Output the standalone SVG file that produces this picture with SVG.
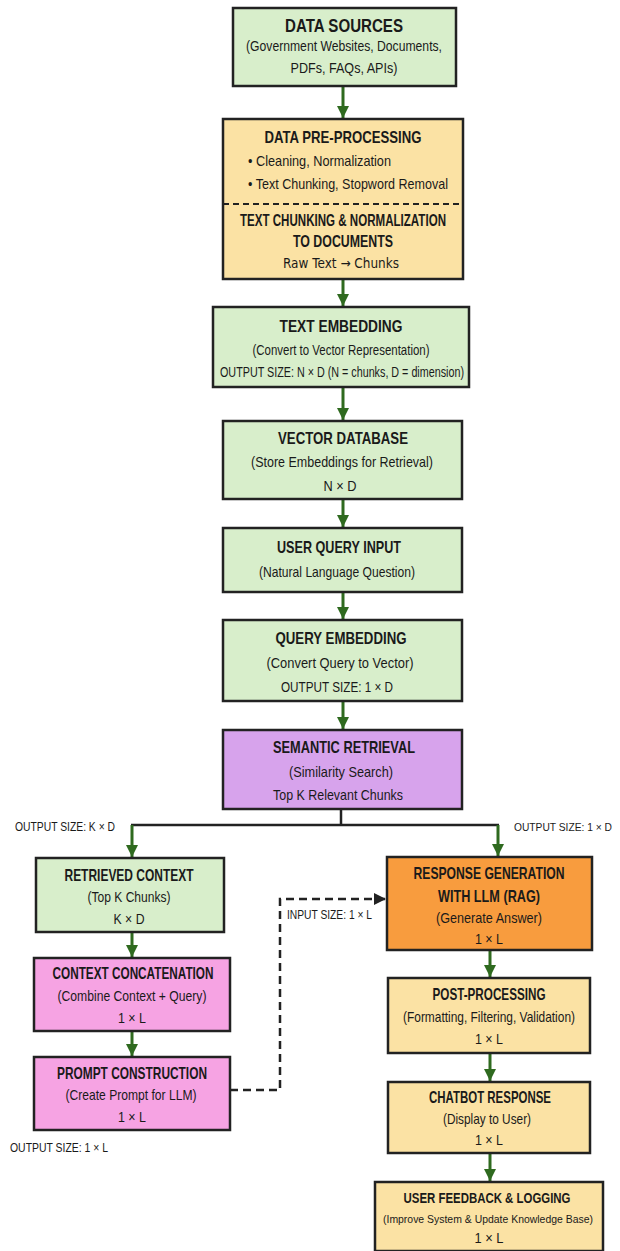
<svg xmlns="http://www.w3.org/2000/svg" width="620" height="1251" viewBox="0 0 620 1251">
<style>
.box{stroke:#222;stroke-width:2.5}
.g{fill:#d8eecb}.y{fill:#fbe2a4}.p{fill:#d7a3ec}.k{fill:#f6a3e3}.o{fill:#f89c3e}
text{font-family:"Liberation Sans",Arial,sans-serif;fill:#1a1a1a;text-anchor:middle}
.t{font-size:17.5px;font-weight:bold}
.t2{font-size:16.5px;font-weight:bold}
.s{font-size:15px}
.sm{font-size:14px}
.lbl{font-size:13px;text-anchor:start}
.ar{stroke:#2f6a1f;stroke-width:3;fill:none}
.ln{stroke:#222;stroke-width:2.5;fill:none}
.da{stroke:#222;stroke-width:2.5;fill:none;stroke-dasharray:8 5}
</style>
<defs>
<marker id="ag" markerUnits="userSpaceOnUse" markerWidth="14" markerHeight="12" refX="12" refY="6" orient="auto"><path d="M0,0 L12,6 L0,12 z" fill="#2f6a1f"/></marker>
<marker id="ab" markerUnits="userSpaceOnUse" markerWidth="14" markerHeight="12" refX="12" refY="6" orient="auto"><path d="M0,0 L12,6 L0,12 z" fill="#222"/></marker>
</defs>
<rect width="620" height="1251" fill="#fff"/>

<g id="connectors">
<line class="ar" x1="343" y1="86" x2="343" y2="118" marker-end="url(#ag)"/>
<line class="ar" x1="343" y1="279" x2="343" y2="306" marker-end="url(#ag)"/>
<line class="ar" x1="343" y1="387" x2="343" y2="420" marker-end="url(#ag)"/>
<line class="ar" x1="343" y1="499" x2="343" y2="527" marker-end="url(#ag)"/>
<line class="ar" x1="343" y1="592" x2="343" y2="619" marker-end="url(#ag)"/>
<line class="ar" x1="343" y1="701" x2="343" y2="729" marker-end="url(#ag)"/>
<polyline class="ln" points="341,809 341,825"/>
<polyline class="ln" points="131,825 499,825"/>
<line class="ar" x1="132" y1="825" x2="132" y2="857" marker-end="url(#ag)"/>
<line class="ar" x1="498" y1="825" x2="498" y2="856" marker-end="url(#ag)"/>
<line class="ar" x1="132" y1="932" x2="132" y2="957" marker-end="url(#ag)"/>
<line class="ar" x1="132" y1="1031" x2="132" y2="1056" marker-end="url(#ag)"/>
<polyline class="da" points="230,1090 280,1090 280,899 386,899" marker-end="url(#ab)"/>
<line class="ar" x1="490" y1="950" x2="490" y2="977" marker-end="url(#ag)"/>
<line class="ar" x1="490" y1="1053" x2="490" y2="1081" marker-end="url(#ag)"/>
<line class="ar" x1="490" y1="1153" x2="490" y2="1181" marker-end="url(#ag)"/>
<text class="lbl" x="15" y="831" textLength="100" lengthAdjust="spacingAndGlyphs">OUTPUT SIZE: K × D</text>
<text class="lbl" x="514" y="831" style="font-size:10.5px" textLength="98" lengthAdjust="spacingAndGlyphs">OUTPUT SIZE: 1 × D</text>
<text class="lbl" x="287" y="919" textLength="85" lengthAdjust="spacingAndGlyphs">INPUT SIZE: 1 × L</text>
<text class="lbl" x="10" y="1152" textLength="98" lengthAdjust="spacingAndGlyphs">OUTPUT SIZE: 1 × L</text>
</g>

<g id="data-sources">
<rect class="box g" x="233" y="8" width="223" height="78"/>
<text class="t" x="344" y="32" textLength="118" lengthAdjust="spacingAndGlyphs">DATA SOURCES</text>
<text class="s" x="344" y="51" textLength="196" lengthAdjust="spacingAndGlyphs">(Government Websites, Documents,</text>
<text class="s" x="344" y="73" textLength="107" lengthAdjust="spacingAndGlyphs">PDFs, FAQs, APIs)</text>
</g>

<g id="pre-processing">
<rect class="box y" x="223" y="119" width="240" height="160"/>
<line x1="223" y1="204" x2="463" y2="204" stroke="#222" stroke-width="1.8" stroke-dasharray="6 4"/>
<text class="t2" x="343" y="143" textLength="157" lengthAdjust="spacingAndGlyphs">DATA PRE-PROCESSING</text>
<text class="s" x="248" y="166" style="text-anchor:start" textLength="143" lengthAdjust="spacingAndGlyphs">• Cleaning, Normalization</text>
<text class="s" x="248" y="189" style="text-anchor:start" textLength="200" lengthAdjust="spacingAndGlyphs">• Text Chunking, Stopword Removal</text>
<text class="t2" x="343" y="226" textLength="206" lengthAdjust="spacingAndGlyphs">TEXT CHUNKING &amp; NORMALIZATION</text>
<text class="t2" x="343" y="247" textLength="100" lengthAdjust="spacingAndGlyphs">TO DOCUMENTS</text>
<text x="341" y="268" style="font-family:'DejaVu Sans',sans-serif;font-size:13.5px" textLength="116" lengthAdjust="spacingAndGlyphs">Raw Text → Chunks</text>
</g>

<g id="text-embedding">
<rect class="box g" x="213" y="307" width="256" height="80"/>
<text class="t2" x="341" y="332" textLength="123" lengthAdjust="spacingAndGlyphs">TEXT EMBEDDING</text>
<text class="s" x="341" y="355" textLength="177" lengthAdjust="spacingAndGlyphs">(Convert to Vector Representation)</text>
<text class="sm" x="342" y="377" textLength="244" lengthAdjust="spacingAndGlyphs">OUTPUT SIZE:  N × D (N = chunks, D = dimension)</text>
</g>

<g id="vector-database">
<rect class="box g" x="223" y="421" width="239" height="78"/>
<text class="t2" x="343" y="444" textLength="130" lengthAdjust="spacingAndGlyphs">VECTOR DATABASE</text>
<text class="s" x="342" y="467" textLength="182" lengthAdjust="spacingAndGlyphs">(Store Embeddings for Retrieval)</text>
<text class="s" x="340" y="491" textLength="33" lengthAdjust="spacingAndGlyphs">N × D</text>
</g>

<g id="user-query-input">
<rect class="box g" x="223" y="528" width="239" height="64"/>
<text class="t2" x="339" y="553" textLength="124" lengthAdjust="spacingAndGlyphs">USER QUERY INPUT</text>
<text class="s" x="337" y="577" textLength="156" lengthAdjust="spacingAndGlyphs">(Natural Language Question)</text>
</g>

<g id="query-embedding">
<rect class="box g" x="223" y="620" width="239" height="81"/>
<text class="t2" x="341" y="644" textLength="131" lengthAdjust="spacingAndGlyphs">QUERY EMBEDDING</text>
<text class="s" x="340" y="668" textLength="147" lengthAdjust="spacingAndGlyphs">(Convert Query to Vector)</text>
<text class="sm" x="337" y="692" textLength="112" lengthAdjust="spacingAndGlyphs">OUTPUT SIZE:  1 × D</text>
</g>

<g id="semantic-retrieval">
<rect class="box p" x="223" y="730" width="239" height="79"/>
<text class="t2" x="344" y="753" textLength="142" lengthAdjust="spacingAndGlyphs">SEMANTIC RETRIEVAL</text>
<text class="s" x="341" y="777" textLength="104" lengthAdjust="spacingAndGlyphs">(Similarity Search)</text>
<text class="s" x="338" y="800" textLength="130" lengthAdjust="spacingAndGlyphs">Top K Relevant Chunks</text>
</g>

<g id="retrieved-context">
<rect class="box g" x="36" y="858" width="188" height="74"/>
<text class="t2" x="129" y="881" textLength="129" lengthAdjust="spacingAndGlyphs">RETRIEVED CONTEXT</text>
<text class="s" x="129" y="902" textLength="83" lengthAdjust="spacingAndGlyphs">(Top K Chunks)</text>
<text class="s" x="129" y="924" textLength="31" lengthAdjust="spacingAndGlyphs">K × D</text>
</g>

<g id="context-concatenation">
<rect class="box k" x="34" y="958" width="196" height="73"/>
<text class="t2" x="133" y="979" textLength="161" lengthAdjust="spacingAndGlyphs">CONTEXT CONCATENATION</text>
<text class="s" x="132" y="1001" textLength="149" lengthAdjust="spacingAndGlyphs">(Combine Context + Query)</text>
<text class="s" x="132" y="1023" textLength="28" lengthAdjust="spacingAndGlyphs">1 × L</text>
</g>

<g id="prompt-construction">
<rect class="box k" x="34" y="1057" width="196" height="73"/>
<text class="t2" x="132" y="1079" textLength="150" lengthAdjust="spacingAndGlyphs">PROMPT CONSTRUCTION</text>
<text class="s" x="131" y="1100" textLength="131" lengthAdjust="spacingAndGlyphs">(Create Prompt for LLM)</text>
<text class="s" x="132" y="1122" textLength="28" lengthAdjust="spacingAndGlyphs">1 × L</text>
</g>

<g id="response-generation">
<rect class="box o" x="387" y="857" width="205" height="93"/>
<text class="t2" x="489" y="879" textLength="151" lengthAdjust="spacingAndGlyphs">RESPONSE GENERATION</text>
<text class="t2" x="489" y="902" textLength="102" lengthAdjust="spacingAndGlyphs">WITH LLM (RAG)</text>
<text class="s" x="489" y="923" textLength="106" lengthAdjust="spacingAndGlyphs">(Generate Answer)</text>
<text class="s" x="489" y="944" textLength="28" lengthAdjust="spacingAndGlyphs">1 × L</text>
</g>

<g id="post-processing">
<rect class="box y" x="388" y="978" width="202" height="75"/>
<text class="t2" x="489" y="1000" textLength="113" lengthAdjust="spacingAndGlyphs">POST-PROCESSING</text>
<text class="s" x="489" y="1022" textLength="172" lengthAdjust="spacingAndGlyphs">(Formatting, Filtering, Validation)</text>
<text class="s" x="489" y="1044" textLength="28" lengthAdjust="spacingAndGlyphs">1 × L</text>
</g>

<g id="chatbot-response">
<rect class="box y" x="388" y="1082" width="202" height="71"/>
<text class="t2" x="490" y="1103" textLength="122" lengthAdjust="spacingAndGlyphs">CHATBOT RESPONSE</text>
<text class="s" x="487" y="1124" textLength="88" lengthAdjust="spacingAndGlyphs">(Display to User)</text>
<text class="s" x="489" y="1145" textLength="28" lengthAdjust="spacingAndGlyphs">1 × L</text>
</g>

<g id="user-feedback">
<rect class="box y" x="375" y="1182" width="228" height="69"/>
<text class="t2" x="487" y="1203" style="font-size:14px" textLength="167" lengthAdjust="spacingAndGlyphs">USER FEEDBACK &amp; LOGGING</text>
<text class="sm" x="488" y="1223" style="font-size:11.5px" textLength="210" lengthAdjust="spacingAndGlyphs">(Improve System &amp; Update Knowledge Base)</text>
<text class="s" x="489" y="1243" textLength="29" lengthAdjust="spacingAndGlyphs">1 × L</text>
</g>
</svg>
